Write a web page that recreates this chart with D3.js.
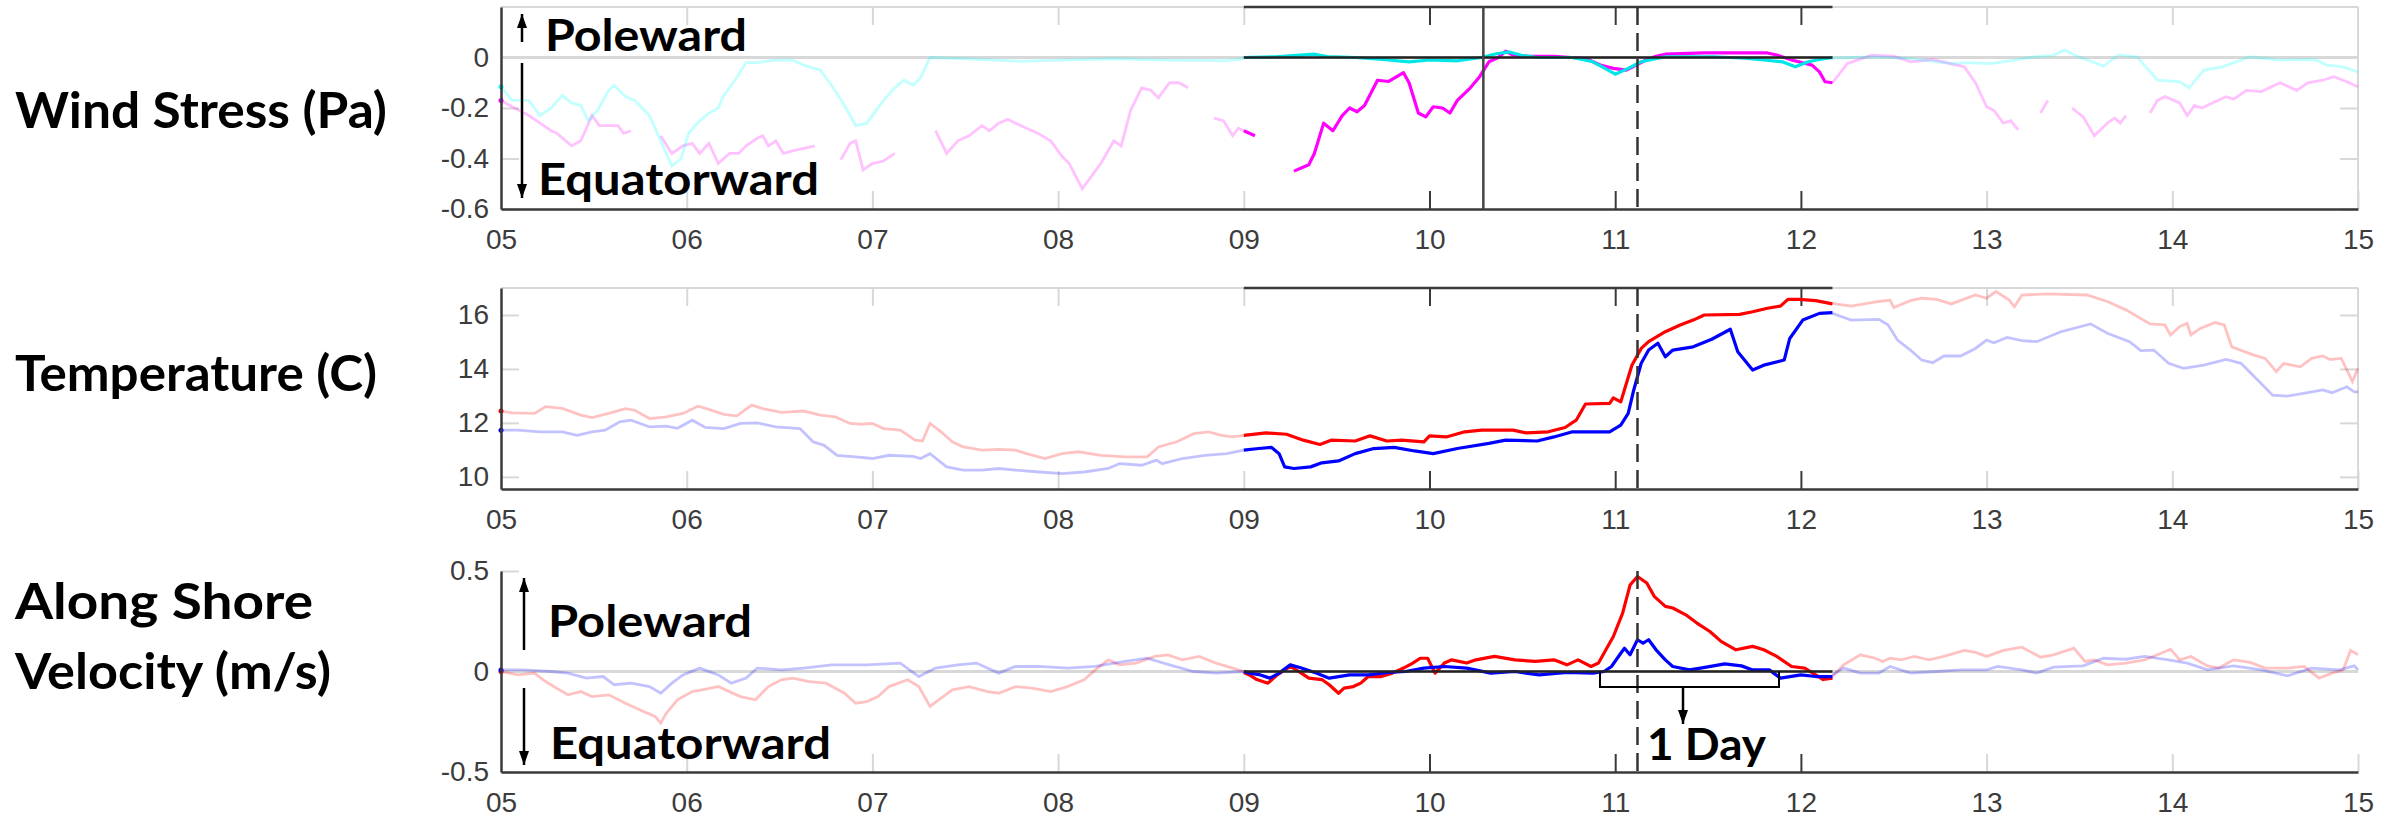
<!DOCTYPE html>
<html>
<head>
<meta charset="utf-8">
<script src="https://cdn.jsdelivr.net/npm/d3@7"></script>
<style>
body { margin: 0; background: #fff; }
svg text { font-family: "Liberation Sans", Arial, sans-serif; }
.lab { font-family: Lato, "Open Sans", sans-serif; font-weight: 700; fill: #000; }
</style>
</head>
<body>
<script>
// time axis (day of month)
const dayTicks = [5, 6, 7, 8, 9, 10, 11, 12, 13, 14, 15]
const dayLabels = ['05', '06', '07', '08', '09', '10', '11', '12', '13', '14', '15']
const focusDays = [9, 12.17]      // highlighted window
const focusTicks = [10, 11, 12]
const eventSolid = 10.29
const eventDashed = 11.12

// y ticks
const windTicks = [-0.6, -0.4, -0.2, 0]
const tempTicks = [10, 12, 14, 16]
const velTicks = [-0.5, 0, 0.5]

// wind stress (Pa) -- null = gap
const windMagFaded = [
  [5.00,-0.17],[5.06,-0.195],[5.15,-0.23],[5.21,-0.26],[5.27,-0.29],[5.30,-0.30],[5.38,-0.35],[5.43,-0.33],[5.49,-0.23],[5.53,-0.27],[5.58,-0.27],[5.63,-0.27],[5.66,-0.30],[5.70,-0.29],[5.75,null],
  [5.86,-0.31],[5.92,-0.38],[5.98,-0.35],[6.03,-0.34],[6.07,-0.38],[6.12,-0.34],[6.17,-0.42],[6.23,-0.38],[6.28,-0.38],[6.32,-0.35],[6.38,-0.32],[6.41,-0.31],[6.44,-0.35],[6.48,-0.33],[6.52,-0.38],[6.57,-0.37],[6.63,-0.36],[6.69,-0.35],[6.75,null],
  [6.83,-0.405],[6.88,-0.34],[6.91,-0.33],[6.95,-0.445],[7.00,-0.42],[7.06,-0.41],[7.12,-0.38],[7.20,null],
  [7.34,-0.29],[7.40,-0.38],[7.46,-0.33],[7.52,-0.31],[7.59,-0.27],[7.63,-0.29],[7.68,-0.26],[7.73,-0.245],[7.77,-0.26],[7.83,-0.28],[7.89,-0.30],[7.96,-0.33],[8.02,-0.39],[8.06,-0.42],[8.13,-0.52],[8.17,-0.48],[8.23,-0.42],[8.30,-0.33],[8.34,-0.35],[8.39,-0.21],[8.45,-0.12],[8.50,-0.13],[8.54,-0.16],[8.60,-0.10],[8.65,-0.10],[8.70,-0.12],[8.75,null],
  [8.84,-0.24],[8.89,-0.25],[8.94,-0.31],[8.97,-0.28],[9.00,-0.29],[9.02,null],
  [12.17,-0.10],[12.25,-0.024],[12.38,0.009],[12.50,0.005],[12.59,-0.017],[12.71,-0.008],[12.88,-0.037],[12.94,-0.10],[13.00,-0.195],[13.04,-0.21],[13.09,-0.26],[13.13,-0.25],[13.17,-0.287],[13.20,null],
  [13.29,-0.22],[13.33,-0.17],[13.40,null],
  [13.46,-0.20],[13.52,-0.235],[13.58,-0.31],[13.65,-0.26],[13.69,-0.24],[13.72,-0.26],[13.75,-0.23],[13.80,null],
  [13.88,-0.22],[13.92,-0.17],[13.96,-0.155],[14.04,-0.18],[14.08,-0.23],[14.12,-0.19],[14.16,-0.20],[14.23,-0.175],[14.29,-0.155],[14.33,-0.165],[14.40,-0.13],[14.48,-0.135],[14.58,-0.10],[14.67,-0.13],[14.73,-0.10],[14.81,-0.09],[14.87,-0.076],[14.94,-0.096],[15.00,-0.116]
]
const windCyanFaded = [
  [5.00,-0.116],[5.06,-0.17],[5.15,-0.17],[5.21,-0.23],[5.27,-0.20],[5.33,-0.15],[5.38,-0.18],[5.43,-0.19],[5.47,-0.25],[5.52,-0.21],[5.58,-0.13],[5.61,-0.11],[5.67,-0.155],[5.72,-0.17],[5.80,-0.23],[5.86,-0.33],[5.92,-0.43],[5.97,-0.40],[6.01,-0.30],[6.07,-0.25],[6.12,-0.22],[6.17,-0.20],[6.20,-0.15],[6.26,-0.09],[6.32,-0.02],[6.38,-0.02],[6.48,-0.01],[6.57,-0.01],[6.63,-0.03],[6.72,-0.05],[6.78,-0.11],[6.85,-0.19],[6.91,-0.27],[6.97,-0.26],[7.06,-0.17],[7.12,-0.12],[7.17,-0.09],[7.22,-0.11],[7.26,-0.08],[7.31,0.0],[7.50,-0.005],[7.80,-0.015],[8.00,-0.01],[8.30,-0.005],[8.60,-0.01],[8.90,-0.012],[9.00,-0.005],[9.02,null],
  [12.17,-0.003],[12.40,0.003],[12.60,-0.005],[12.81,-0.024],[12.90,-0.02],[13.02,-0.024],[13.15,-0.01],[13.25,0.002],[13.36,0.008],[13.42,0.03],[13.48,0.008],[13.63,-0.034],[13.71,0.01],[13.81,0.003],[13.92,-0.09],[14.04,-0.096],[14.09,-0.12],[14.17,-0.05],[14.27,-0.037],[14.42,0.003],[14.58,-0.01],[14.77,-0.008],[14.83,-0.03],[14.92,-0.037],[15.00,-0.057]
]
const windMagFocus = [
  [9.00,-0.29],[9.06,-0.31],[9.08,null],
  [9.27,-0.45],[9.35,-0.425],[9.38,-0.38],[9.43,-0.26],[9.48,-0.29],[9.53,-0.23],[9.57,-0.20],[9.61,-0.215],[9.65,-0.19],[9.72,-0.09],[9.78,-0.095],[9.86,-0.06],[9.89,-0.10],[9.94,-0.22],[9.98,-0.235],[10.02,-0.195],[10.07,-0.20],[10.11,-0.22],[10.15,-0.17],[10.22,-0.12],[10.27,-0.076],[10.32,-0.017],[10.37,0.0],[10.41,0.025],[10.45,0.01],[10.52,0.005],[10.67,0.005],[10.84,-0.004],[10.92,-0.03],[10.99,-0.043],[11.06,-0.05],[11.10,-0.035],[11.16,-0.012],[11.22,0.005],[11.27,0.013],[11.48,0.018],[11.82,0.018],[11.87,0.01],[11.95,-0.01],[12.06,-0.03],[12.10,-0.057],[12.13,-0.096],[12.17,-0.10]
]
const windCyanFocus = [
  [9.00,0.0],[9.17,0.003],[9.38,0.013],[9.45,0.004],[9.60,0.0],[9.75,-0.008],[9.89,-0.017],[10.00,-0.01],[10.15,-0.013],[10.28,0.0],[10.36,0.015],[10.43,0.022],[10.50,0.008],[10.58,0.0],[10.77,0.0],[10.88,-0.017],[10.95,-0.045],[11.00,-0.066],[11.07,-0.043],[11.14,-0.017],[11.27,0.003],[11.53,0.003],[11.70,-0.003],[11.80,-0.01],[11.90,-0.017],[11.97,-0.037],[12.04,-0.017],[12.10,-0.008],[12.17,0.0]
]

// temperature (C)
const tempRedFaded = [
  [5.00,12.44],[5.06,12.37],[5.18,12.35],[5.24,12.60],[5.33,12.54],[5.43,12.29],[5.49,12.20],[5.58,12.35],[5.67,12.53],[5.72,12.47],[5.80,12.16],[5.89,12.22],[5.98,12.35],[6.06,12.62],[6.12,12.50],[6.20,12.32],[6.27,12.26],[6.35,12.66],[6.41,12.53],[6.51,12.39],[6.63,12.44],[6.72,12.29],[6.80,12.22],[6.88,11.98],[6.94,11.95],[7.00,11.98],[7.06,11.79],[7.15,11.73],[7.23,11.36],[7.27,11.33],[7.31,11.98],[7.37,11.67],[7.43,11.30],[7.49,11.11],[7.59,10.99],[7.68,11.02],[7.77,10.99],[7.83,10.86],[7.93,10.68],[8.02,10.86],[8.11,10.93],[8.23,10.80],[8.36,10.74],[8.48,10.74],[8.54,11.11],[8.64,11.30],[8.73,11.60],[8.81,11.67],[8.88,11.54],[8.94,11.48],[9.00,11.54],[9.02,null],
  [12.17,16.43],[12.27,16.33],[12.42,16.50],[12.48,16.55],[12.50,16.28],[12.59,16.53],[12.65,16.62],[12.73,16.58],[12.81,16.41],[12.94,16.74],[13.00,16.62],[13.05,16.87],[13.12,16.56],[13.15,16.31],[13.19,16.74],[13.33,16.78],[13.54,16.74],[13.65,16.50],[13.75,16.19],[13.88,15.67],[13.96,15.63],[13.99,15.26],[14.04,15.57],[14.08,15.69],[14.10,15.26],[14.15,15.50],[14.23,15.72],[14.28,15.63],[14.32,14.82],[14.44,14.51],[14.50,14.39],[14.56,13.90],[14.60,14.20],[14.69,14.08],[14.75,14.39],[14.81,14.48],[14.85,14.35],[14.91,14.39],[14.97,13.53],[15.00,14.02]
]
const tempBlueFaded = [
  [5.00,11.73],[5.09,11.73],[5.21,11.67],[5.33,11.67],[5.41,11.54],[5.49,11.67],[5.56,11.73],[5.64,12.04],[5.70,12.10],[5.80,11.85],[5.89,11.88],[5.95,11.80],[6.03,12.10],[6.10,11.83],[6.20,11.79],[6.29,11.98],[6.38,12.00],[6.48,11.85],[6.61,11.79],[6.68,11.30],[6.74,11.17],[6.81,10.80],[6.91,10.74],[7.00,10.68],[7.09,10.80],[7.22,10.76],[7.26,10.68],[7.31,10.86],[7.40,10.37],[7.49,10.25],[7.59,10.25],[7.68,10.31],[7.77,10.25],[7.90,10.18],[8.02,10.12],[8.14,10.18],[8.27,10.31],[8.33,10.49],[8.45,10.43],[8.53,10.62],[8.56,10.49],[8.67,10.68],[8.79,10.80],[8.91,10.86],[9.00,10.99],[9.02,null],
  [12.17,16.06],[12.27,15.81],[12.42,15.84],[12.47,15.63],[12.52,15.07],[12.59,14.70],[12.65,14.33],[12.71,14.23],[12.77,14.48],[12.86,14.48],[12.94,14.76],[13.00,15.07],[13.04,14.97],[13.11,15.17],[13.19,15.05],[13.27,15.01],[13.40,15.38],[13.56,15.67],[13.65,15.32],[13.77,15.01],[13.83,14.68],[13.90,14.70],[13.98,14.21],[14.06,14.02],[14.17,14.14],[14.29,14.35],[14.37,14.21],[14.46,13.59],[14.54,13.03],[14.62,12.99],[14.73,13.12],[14.81,13.22],[14.86,13.12],[14.94,13.34],[14.98,13.15],[15.00,13.15]
]
const tempRedFocus = [
  [9.00,11.54],[9.12,11.63],[9.23,11.58],[9.32,11.36],[9.41,11.20],[9.47,11.36],[9.60,11.33],[9.68,11.52],[9.77,11.33],[9.85,11.36],[9.97,11.30],[10.00,11.52],[10.09,11.48],[10.19,11.67],[10.28,11.73],[10.45,11.73],[10.52,11.63],[10.64,11.67],[10.73,11.83],[10.79,12.10],[10.84,12.70],[10.97,12.72],[10.99,12.93],[11.03,12.78],[11.06,13.46],[11.09,14.14],[11.14,14.76],[11.18,15.01],[11.27,15.38],[11.35,15.63],[11.42,15.81],[11.48,16.00],[11.67,16.02],[11.74,16.12],[11.82,16.25],[11.89,16.33],[11.93,16.58],[11.99,16.58],[12.08,16.53],[12.17,16.41]
]
const tempBlueFocus = [
  [9.00,10.99],[9.08,11.05],[9.15,11.09],[9.19,10.86],[9.22,10.37],[9.27,10.31],[9.36,10.37],[9.42,10.52],[9.51,10.59],[9.60,10.86],[9.70,11.05],[9.81,11.09],[9.92,10.96],[10.02,10.86],[10.15,11.05],[10.32,11.24],[10.41,11.36],[10.58,11.33],[10.67,11.48],[10.77,11.67],[10.97,11.67],[11.03,11.92],[11.07,12.35],[11.10,13.22],[11.14,14.21],[11.18,14.70],[11.23,14.95],[11.27,14.45],[11.31,14.70],[11.42,14.82],[11.52,15.10],[11.62,15.47],[11.66,14.64],[11.74,13.96],[11.80,14.14],[11.91,14.33],[11.94,15.13],[12.01,15.81],[12.10,16.06],[12.17,16.09]
]

// along shore velocity (m/s)
const velRedFaded = [
  [5.00,0.0],[5.09,-0.017],[5.18,-0.008],[5.24,-0.05],[5.30,-0.083],[5.36,-0.116],[5.43,-0.10],[5.49,-0.125],[5.58,-0.116],[5.67,-0.158],[5.77,-0.20],[5.83,-0.224],[5.86,-0.257],[5.89,-0.208],[5.95,-0.141],[6.03,-0.10],[6.09,-0.09],[6.17,-0.075],[6.23,-0.10],[6.29,-0.125],[6.37,-0.141],[6.44,-0.075],[6.51,-0.041],[6.57,-0.033],[6.66,-0.05],[6.75,-0.058],[6.85,-0.108],[6.91,-0.158],[6.97,-0.15],[7.03,-0.125],[7.09,-0.075],[7.19,-0.041],[7.25,-0.075],[7.31,-0.174],[7.37,-0.133],[7.43,-0.091],[7.52,-0.075],[7.62,-0.10],[7.68,-0.108],[7.77,-0.075],[7.86,-0.083],[7.96,-0.10],[8.05,-0.075],[8.14,-0.041],[8.20,0.008],[8.27,0.058],[8.33,0.033],[8.42,0.042],[8.52,0.075],[8.59,0.083],[8.67,0.058],[8.76,0.075],[8.85,0.042],[8.94,0.017],[9.00,0.0],[9.02,null],
  [12.17,-0.025],[12.23,0.033],[12.32,0.083],[12.40,0.066],[12.44,0.05],[12.48,0.066],[12.54,0.058],[12.61,0.075],[12.69,0.058],[12.77,0.075],[12.88,0.105],[12.94,0.095],[13.00,0.075],[13.09,0.105],[13.19,0.121],[13.29,0.071],[13.36,0.083],[13.47,0.116],[13.53,0.05],[13.58,0.058],[13.65,0.033],[13.75,0.042],[13.85,0.058],[13.94,0.091],[13.99,0.111],[14.04,0.058],[14.10,0.075],[14.19,0.028],[14.25,0.017],[14.33,0.058],[14.42,0.045],[14.50,0.017],[14.62,0.017],[14.71,0.025],[14.79,-0.033],[14.86,-0.008],[14.92,0.008],[14.96,0.105],[15.00,0.083]
]
const velBlueFaded = [
  [5.00,0.008],[5.12,0.008],[5.27,0.0],[5.36,-0.008],[5.46,-0.033],[5.55,-0.025],[5.61,-0.066],[5.70,-0.058],[5.80,-0.075],[5.86,-0.108],[5.92,-0.058],[5.98,-0.017],[6.07,0.017],[6.17,-0.017],[6.24,-0.058],[6.32,-0.033],[6.38,0.017],[6.51,0.008],[6.63,0.017],[6.78,0.033],[6.97,0.033],[7.15,0.042],[7.25,-0.025],[7.34,0.017],[7.46,0.033],[7.56,0.042],[7.68,-0.008],[7.77,0.025],[7.90,0.025],[8.05,0.017],[8.20,0.025],[8.36,0.05],[8.48,0.066],[8.60,0.033],[8.73,0.0],[8.85,-0.008],[9.00,0.0],[9.02,null],
  [12.17,-0.017],[12.23,0.017],[12.32,-0.008],[12.42,-0.008],[12.48,0.025],[12.59,-0.008],[12.73,0.0],[12.86,0.008],[13.00,0.008],[13.06,0.025],[13.19,0.008],[13.27,-0.008],[13.36,0.022],[13.52,0.028],[13.63,0.066],[13.75,0.061],[13.85,0.075],[13.98,0.058],[14.08,0.042],[14.19,0.008],[14.33,0.028],[14.48,0.008],[14.62,-0.022],[14.75,0.017],[14.90,0.008],[14.98,0.028],[15.00,0.008]
]
const velRedFocus = [
  [9.00,-0.005],[9.03,-0.017],[9.07,-0.04],[9.13,-0.058],[9.18,-0.017],[9.25,0.025],[9.31,-0.008],[9.35,-0.033],[9.42,-0.04],[9.46,-0.066],[9.51,-0.108],[9.54,-0.083],[9.59,-0.075],[9.63,-0.058],[9.67,-0.025],[9.74,-0.025],[9.80,-0.008],[9.86,0.017],[9.91,0.042],[9.95,0.066],[9.99,0.066],[10.03,-0.008],[10.08,0.042],[10.12,0.058],[10.20,0.042],[10.25,0.058],[10.35,0.075],[10.46,0.058],[10.57,0.05],[10.67,0.058],[10.74,0.033],[10.80,0.058],[10.87,0.025],[10.91,0.042],[10.95,0.108],[10.99,0.174],[11.04,0.29],[11.08,0.43],[11.12,0.473],[11.17,0.44],[11.21,0.374],[11.27,0.324],[11.31,0.316],[11.38,0.282],[11.44,0.241],[11.51,0.199],[11.57,0.15],[11.65,0.108],[11.74,0.125],[11.80,0.108],[11.87,0.075],[11.95,0.025],[12.02,0.017],[12.08,-0.017],[12.12,-0.04],[12.17,-0.033]
]
const velBlueFocus = [
  [9.00,0.0],[9.03,-0.008],[9.09,-0.017],[9.14,-0.033],[9.19,-0.008],[9.25,0.033],[9.31,0.017],[9.39,-0.008],[9.46,-0.033],[9.57,-0.017],[9.67,-0.017],[9.78,-0.005],[9.87,0.0],[9.97,0.017],[10.08,0.025],[10.20,0.017],[10.33,-0.008],[10.46,0.0],[10.59,-0.017],[10.74,-0.005],[10.88,-0.008],[10.94,0.0],[10.98,0.025],[11.03,0.091],[11.05,0.116],[11.08,0.083],[11.12,0.158],[11.15,0.141],[11.18,0.158],[11.22,0.108],[11.27,0.058],[11.31,0.025],[11.40,0.008],[11.46,0.017],[11.59,0.038],[11.68,0.028],[11.74,0.008],[11.83,0.008],[11.89,-0.033],[12.00,-0.017],[12.08,-0.025],[12.17,-0.025]
]

// layout
const W = 2404, H = 819
const svg = d3.select('body').append('svg').attr('width', W).attr('height', H)

const x = d3.scaleLinear().domain([5, 15]).range([501, 2358])

const panels = [
  {
    y: d3.scaleLinear().domain([-0.6, 0.2]).range([209, 7]),
    ticks: windTicks, fmt: d => d === 0 ? '0' : d.toFixed(1), boxed: true,
    faded: [[windMagFaded, '#ff00ff'], [windCyanFaded, '#00ffff']],
    focus: [[windMagFocus, '#ff00ff'], [windCyanFocus, '#00e5e5']],
    zero: true, solid: true
  },
  {
    y: d3.scaleLinear().domain([9.55, 17]).range([489, 288]),
    ticks: tempTicks, fmt: d => d, boxed: true,
    faded: [[tempRedFaded, '#ff0000'], [tempBlueFaded, '#0000ff']],
    focus: [[tempRedFocus, '#ff0000'], [tempBlueFocus, '#0000ff']],
    zero: false, solid: false
  },
  {
    y: d3.scaleLinear().domain([-0.5, 0.5]).range([772, 571]),
    ticks: velTicks, fmt: d => d === 0 ? '0' : d.toFixed(1), boxed: false,
    faded: [[velRedFaded, '#ff0000'], [velBlueFaded, '#0000ff']],
    focus: [[velRedFocus, '#ff0000'], [velBlueFocus, '#0000ff']],
    zero: true, solid: false
  }
]

const light = '#d8d8d8'
const dark = '#3a3a3a'
const fadedDays = dayTicks.filter(d => d > 5 && d < 15 && !focusTicks.includes(d))

panels.forEach(p => {
  const y = p.y
  const [yb, yt] = y.range()
  const line = d3.line().defined(d => d[1] != null).x(d => x(d[0])).y(d => y(d[1]))
  const g = svg.append('g')

  // frame (faded parts)
  if (p.boxed) {
    g.append('line').attr('x1', x(5)).attr('x2', x(15)).attr('y1', yt).attr('y2', yt)
      .attr('stroke', light).attr('stroke-width', 2)
    g.append('line').attr('x1', x(15)).attr('x2', x(15)).attr('y1', yt).attr('y2', yb)
      .attr('stroke', light).attr('stroke-width', 2)
    g.append('g').attr('transform', `translate(0,${yt})`)
      .call(d3.axisBottom(x).tickValues(fadedDays).tickSize(18).tickFormat(''))
      .call(a => a.select('.domain').remove())
      .call(a => a.selectAll('line').attr('stroke', light).attr('stroke-width', 2))
    g.append('g').attr('transform', `translate(${x(15)},0)`)
      .call(d3.axisLeft(y).tickValues(p.ticks).tickSize(18).tickFormat(''))
      .call(a => a.select('.domain').remove())
      .call(a => a.selectAll('line').attr('stroke', light).attr('stroke-width', 2))
  }
  g.append('g').attr('transform', `translate(0,${yb})`)
    .call(d3.axisTop(x).tickValues(fadedDays.concat([15])).tickSize(18).tickFormat(''))
    .call(a => a.select('.domain').remove())
    .call(a => a.selectAll('line').attr('stroke', light).attr('stroke-width', 2))
  g.append('g').attr('transform', `translate(${x(5)},0)`)
    .call(d3.axisRight(y).tickValues(p.ticks).tickSize(18).tickFormat(''))
    .call(a => a.select('.domain').remove())
    .call(a => a.selectAll('line').attr('stroke', light).attr('stroke-width', 2))

  if (p.zero) {
    g.append('line').attr('x1', x(5)).attr('x2', x(15)).attr('y1', y(0)).attr('y2', y(0))
      .attr('stroke', light).attr('stroke-width', 3)
  }

  // faded full record
  p.faded.forEach(([data, c]) => {
    g.append('path').datum(data).attr('d', line).attr('fill', 'none')
      .attr('stroke', c).attr('stroke-opacity', 0.24).attr('stroke-width', 2.8)
    g.append('circle').attr('cx', x(data[0][0])).attr('cy', y(data[0][1])).attr('r', 2.5).attr('fill', c)
  })

  // focus window frame
  if (p.boxed) {
    g.append('line').attr('x1', x(focusDays[0])).attr('x2', x(focusDays[1])).attr('y1', yt).attr('y2', yt)
      .attr('stroke', dark).attr('stroke-width', 2.5)
    g.append('g').attr('transform', `translate(0,${yt})`)
      .call(d3.axisBottom(x).tickValues(focusTicks).tickSize(18).tickFormat(''))
      .call(a => a.select('.domain').remove())
      .call(a => a.selectAll('line').attr('stroke', dark).attr('stroke-width', 2))
  }
  g.append('g').attr('transform', `translate(0,${yb})`)
    .call(d3.axisTop(x).tickValues(focusTicks).tickSize(18).tickFormat(''))
    .call(a => a.select('.domain').remove())
    .call(a => a.selectAll('line').attr('stroke', dark).attr('stroke-width', 2))

  // focus lines
  p.focus.forEach(([data, c]) => {
    g.append('path').datum(data).attr('d', line).attr('fill', 'none')
      .attr('stroke', c).attr('stroke-width', 3.2).attr('stroke-linejoin', 'round')
  })
  if (p.zero) {
    g.append('line').attr('x1', x(focusDays[0])).attr('x2', x(focusDays[1])).attr('y1', y(0)).attr('y2', y(0))
      .attr('stroke', '#222').attr('stroke-width', 2.5)
  }

  // axes with labels
  g.append('g').attr('transform', `translate(0,${yb})`)
    .call(d3.axisBottom(x).tickValues(dayTicks).tickSize(0).tickSizeOuter(0).tickPadding(20)
      .tickFormat((d, i) => dayLabels[i]))
    .call(a => a.select('.domain').attr('stroke', dark).attr('stroke-width', 2.5))
    .call(a => a.selectAll('text').attr('font-size', 28).attr('fill', '#3c3c3c')
      .attr('font-family', '"Liberation Sans", Arial, sans-serif'))
  g.append('g').attr('transform', `translate(${x(5)},0)`)
    .call(d3.axisLeft(y).tickValues(p.ticks).tickSize(0).tickSizeOuter(0).tickPadding(12).tickFormat(p.fmt))
    .call(a => a.select('.domain').attr('stroke', dark).attr('stroke-width', 2.5))
    .call(a => a.selectAll('text').attr('font-size', 28).attr('fill', '#3c3c3c')
      .attr('font-family', '"Liberation Sans", Arial, sans-serif'))

  // event markers
  g.append('line').attr('x1', x(eventDashed)).attr('x2', x(eventDashed)).attr('y1', yt).attr('y2', yb)
    .attr('stroke', '#333').attr('stroke-width', 2.5).attr('stroke-dasharray', '18,8')
  if (p.solid) {
    g.append('line').attr('x1', x(eventSolid)).attr('x2', x(eventSolid)).attr('y1', yt).attr('y2', yb)
      .attr('stroke', '#444').attr('stroke-width', 2.5)
  }
})

// annotations
function arrow(x0, y0, y1) {
  svg.append('line').attr('x1', x0).attr('x2', x0).attr('y1', y0).attr('y2', y1)
    .attr('stroke', '#000').attr('stroke-width', 2.5)
  const dir = y1 > y0 ? 1 : -1
  svg.append('path')
    .attr('d', `M${x0 - 5},${y1 - dir * 14} L${x0 + 5},${y1 - dir * 14} L${x0},${y1} Z`)
    .attr('fill', '#000')
}
function label(t, x0, y0, size, len) {
  const el = svg.append('text').attr('class', 'lab').attr('x', x0).attr('y', y0)
    .attr('font-size', size).text(t)
  if (len) el.attr('textLength', len).attr('lengthAdjust', 'spacingAndGlyphs')
}

label('Wind Stress (Pa)', 15, 128, 50, 372)
label('Temperature (C)', 15, 391, 50, 362)
label('Along Shore', 15, 619, 50, 298)
label('Velocity (m/s)', 15, 689, 50, 316)

arrow(522, 42, 14)
arrow(522, 63, 198)
label('Poleward', 545, 51, 44, 202)
label('Equatorward', 538, 195, 44, 281)

arrow(524, 650, 578)
arrow(524, 688, 765)
label('Poleward', 548, 637, 44, 204)
label('Equatorward', 550, 759, 44, 281)

// one-day bracket
const yv0 = panels[2].y(0)
svg.append('path')
  .attr('d', `M1600,${yv0} V687 H1779 V${yv0}`)
  .attr('fill', 'none').attr('stroke', '#000').attr('stroke-width', 2)
arrow(1683, 687, 724)
label('1 Day', 1647, 760, 44, 119)
</script>
</body>
</html>
